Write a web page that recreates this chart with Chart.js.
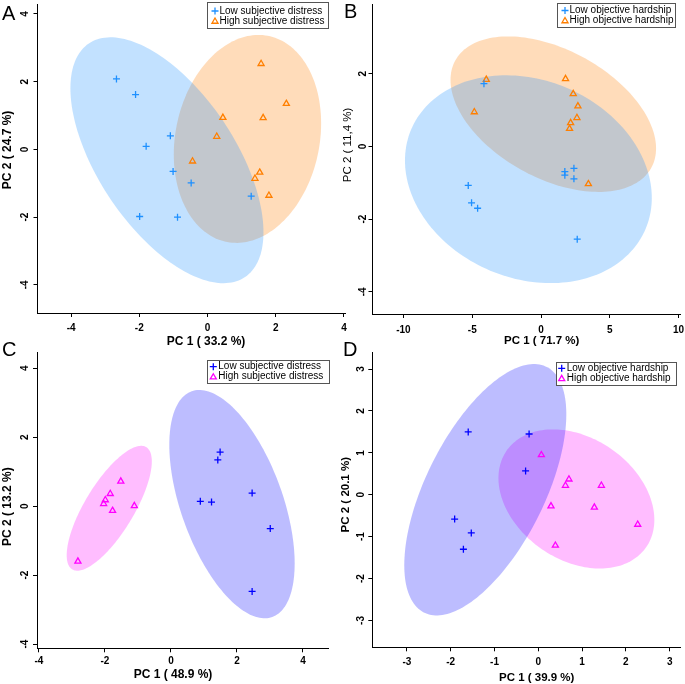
<!DOCTYPE html>
<html>
<head>
<meta charset="utf-8">
<script src="https://cdn.jsdelivr.net/npm/chart.js@4.4.1/dist/chart.umd.min.js"></script>
<style>
  body { margin: 0; background: #fff; }
  #wrap { position: relative; width: 685px; height: 684px; overflow: hidden; }
  canvas { position: absolute; }
</style>
</head>
<body>
<div id="wrap">
  <canvas id="pA" width="360" height="352" style="left:0;top:0"></canvas>
  <canvas id="pB" width="345" height="352" style="left:340px;top:0"></canvas>
  <canvas id="pC" width="345" height="344" style="left:0;top:340px"></canvas>
  <canvas id="pD" width="345" height="344" style="left:340px;top:340px"></canvas>
</div>
<script>
Chart.defaults.animation = false;
const FONT = '"Liberation Sans", Arial, Helvetica, sans-serif';

// ---- A: subjective distress ----
const aLowX  = [-2.67, -2.11, -1.09, -1.80, -1.01, -0.48, -1.99, -0.88, 1.28];
const aLowY  = [2.08, 1.62, 0.40, 0.09, -0.65, -0.99, -1.98, -2.00, -1.38];
const aHighX = [1.57, 2.31, 0.45, 1.63, 0.27, -0.44, 1.53, 1.39, 1.80];
const aHighY = [2.53, 1.35, 0.94, 0.93, 0.38, -0.35, -0.68, -0.86, -1.36];
// ellipse: centre x, centre y, half-width, half-height, correlation
const aLowEllipse  = [-1.19, -0.32, 2.83, 3.63, -0.585];
const aHighEllipse = [1.17, 0.31, 2.16, 3.07, 0.15];
const aXTicks = [-4, -2, 0, 2, 4];
const aYTicks = [-4, -2, 0, 2, 4];

// ---- B: objective hardship ----
const bLowX  = [-4.15, -5.29, -5.05, -4.61, 1.73, 1.73, 2.39, 2.39, 2.63];
const bLowY  = [1.73, -1.07, -1.55, -1.70, -0.69, -0.79, -0.60, -0.89, -2.55];
const bHighX = [-3.98, -4.85, 1.78, 2.34, 2.68, 2.61, 2.15, 2.07, 3.44];
const bHighY = [1.84, 0.95, 1.86, 1.45, 1.11, 0.79, 0.65, 0.49, -1.03];
const bLowEllipse  = [-0.92, -0.9, 8.97, 2.86, -0.18];
const bHighEllipse = [0.89, 0.89, 7.47, 2.14, -0.44];
const bXTicks = [-10, -5, 0, 5, 10];
const bYTicks = [-4, -2, 0, 2];

// ---- C: subjective distress ----
const cLowX  = [1.49, 1.42, 0.89, 1.23, 2.46, 3.01, 2.46];
const cLowY  = [1.57, 1.34, 0.14, 0.12, 0.38, -0.65, -2.47];
const cHighX = [-1.52, -1.84, -1.99, -2.04, -1.77, -1.11, -2.82];
const cHighY = [0.72, 0.36, 0.18, 0.07, -0.13, 0.01, -1.60];
const cLowEllipse  = [1.85, 0.06, 1.90, 3.31, -0.52];
const cHighEllipse = [-1.87, -0.06, 1.29, 1.81, 0.75];
const cXTicks = [-4, -2, 0, 2, 4];
const cYTicks = [-4, -2, 0, 2, 4];

// ---- D: objective hardship ----
const dLowX  = [-1.60, -0.21, -0.29, -1.91, -1.53, -1.71];
const dLowY  = [1.50, 1.45, 0.57, -0.58, -0.91, -1.30];
const dHighX = [0.07, 0.70, 0.62, 1.44, 0.29, 1.28, 2.27, 0.39];
const dHighY = [0.95, 0.37, 0.22, 0.22, -0.27, -0.30, -0.71, -1.21];
const dLowEllipse  = [-1.21, 0.12, 1.85, 3.0, 0.6];
const dHighEllipse = [0.87, -0.10, 1.78, 1.66, -0.3];
const dXTicks = [-3, -2, -1, 0, 1, 2, 3];
const dYTicks = [-3, -2, -1, 0, 1, 2, 3];

const toPts = (xs, ys) => xs.map((x, i) => ({ x, y: ys[i] }));

function fillEllipse(chart, e, color) {
  const xs = chart.scales.x, ys = chart.scales.y, ctx = chart.ctx;
  const [cx, cy, sx, sy, rho] = e;
  const k = Math.sqrt(1 - rho * rho);
  ctx.save();
  ctx.beginPath();
  for (let i = 0; i <= 180; i++) {
    const t = i / 180 * Math.PI * 2;
    const px = xs.getPixelForValue(cx + sx * Math.cos(t));
    const py = ys.getPixelForValue(cy + sy * (rho * Math.cos(t) + k * Math.sin(t)));
    if (i === 0) ctx.moveTo(px, py); else ctx.lineTo(px, py);
  }
  ctx.closePath();
  ctx.fillStyle = color;
  ctx.fill();
  ctx.restore();
}

function drawSymbol(ctx, style, x, y, r, color) {
  ctx.save();
  ctx.strokeStyle = color;
  ctx.lineWidth = 1.3;
  ctx.beginPath();
  if (style === 'cross') {
    ctx.moveTo(x - r, y); ctx.lineTo(x + r, y);
    ctx.moveTo(x, y - r); ctx.lineTo(x, y + r);
  } else {
    for (let i = 0; i < 3; i++) {
      const a = i * 2 * Math.PI / 3;
      const px = x + Math.sin(a) * r, py = y - Math.cos(a) * r;
      if (i === 0) ctx.moveTo(px, py); else ctx.lineTo(px, py);
    }
    ctx.closePath();
  }
  ctx.stroke();
  ctx.restore();
}

function panel(id, p) {
  const W = p.size[0], H = p.size[1];
  const deco = {
    id: 'deco',
    beforeDatasetsDraw(chart) {
      // high group first, low group drawn over it
      fillEllipse(chart, p.highEllipse, p.highFill);
      fillEllipse(chart, p.lowEllipse, p.lowFill);
    },
    afterDraw(chart) {
      const ctx = chart.ctx, xs = chart.scales.x, ys = chart.scales.y, area = chart.chartArea;
      ctx.save();
      ctx.fillStyle = '#000';
      ctx.textAlign = 'center';
      ctx.textBaseline = 'middle';
      ctx.font = 'bold 10px ' + FONT;
      xs.ticks.forEach(t => ctx.fillText(String(t.value), xs.getPixelForValue(t.value), area.bottom + p.xTickOff));
      ys.ticks.forEach(t => {
        ctx.save();
        ctx.translate(p.yTickX, ys.getPixelForValue(t.value));
        ctx.rotate(-Math.PI / 2);
        ctx.fillText(String(t.value), 0, 0);
        ctx.restore();
      });
      // axis titles
      ctx.font = 'bold ' + p.titleSize + 'px ' + FONT;
      ctx.fillText(p.xTitle, p.xTitlePos[0], p.xTitlePos[1]);
      ctx.save();
      ctx.font = (p.yTitleBold ? 'bold ' : '') + p.titleSize + 'px ' + FONT;
      ctx.translate(p.yTitlePos[0], p.yTitlePos[1]);
      ctx.rotate(-Math.PI / 2);
      ctx.fillText(p.yTitle, 0, 0);
      ctx.restore();
      // panel letter
      ctx.textAlign = 'left';
      ctx.textBaseline = 'alphabetic';
      ctx.font = '20px ' + FONT;
      ctx.fillText(p.letter, p.letterPos[0], p.letterPos[1]);
      // legend
      const [lx, ly, lw, lh] = p.legendBox;
      ctx.fillStyle = '#fff';
      ctx.fillRect(lx, ly, lw, lh);
      ctx.strokeStyle = '#555';
      ctx.lineWidth = 1;
      ctx.strokeRect(Math.round(lx) + 0.5, Math.round(ly) + 0.5, Math.round(lw), Math.round(lh));
      ctx.fillStyle = '#000';
      ctx.font = '10px ' + FONT;
      ctx.textBaseline = 'middle';
      p.legendLabels.forEach((lab, i) => {
        const yy = p.legendRows[i];
        drawSymbol(ctx, i === 0 ? 'cross' : 'triangle', p.legendSymX, i === 0 ? yy : yy + 0.5, 3.5, i === 0 ? p.lowColor : p.highColor);
        ctx.fillText(lab, p.legendTextX, yy);
      });
      ctx.restore();
    }
  };

  const axisBase = {
    type: 'linear',
    ticks: { display: false },
    grid: { drawOnChartArea: false, color: '#000', tickLength: 4, lineWidth: 1 },
    border: { color: '#000', width: 1 }
  };

  new Chart(document.getElementById(id), {
    type: 'scatter',
    data: {
      datasets: [
        {
          data: toPts(p.lowX, p.lowY),
          pointStyle: 'cross', pointRadius: 3.5, pointHoverRadius: 3.5,
          borderColor: p.lowColor, backgroundColor: p.lowColor, borderWidth: 1.3
        },
        {
          data: toPts(p.highX, p.highY),
          pointStyle: 'triangle', pointRadius: 3.5, pointHoverRadius: 3.5,
          borderColor: p.highColor, backgroundColor: 'rgba(0,0,0,0)', borderWidth: 1.3
        }
      ]
    },
    options: {
      responsive: false,
      animation: false,
      devicePixelRatio: 1,
      events: [],
      layout: { padding: { left: 0, top: p.area[1], right: W - p.area[2], bottom: 0 } },
      plugins: { legend: { display: false }, tooltip: { enabled: false } },
      scales: {
        x: Object.assign({}, axisBase, {
          min: p.xRange[0], max: p.xRange[1],
          afterBuildTicks: s => { s.ticks = p.xTicks.map(v => ({ value: v })); },
          afterFit: s => { s.height = H - p.area[3]; s.paddingLeft = 0; s.paddingRight = 0; }
        }),
        y: Object.assign({}, axisBase, {
          min: p.yRange[0], max: p.yRange[1],
          afterBuildTicks: s => { s.ticks = p.yTicks.map(v => ({ value: v })); },
          afterFit: s => { s.width = p.area[0]; s.paddingTop = 0; s.paddingBottom = 0; }
        })
      }
    },
    plugins: [deco]
  });
}

const blueA = '#1E90FF', orangeA = '#FF7F00', blueC = '#0000FF', magentaC = '#FF00FF';
const fillBlueA = 'rgba(30,144,255,0.27)', fillOrangeA = 'rgba(255,127,0,0.27)';
const fillBlueC = 'rgba(0,0,255,0.26)', fillMagentaC = 'rgba(255,0,255,0.26)';

panel('pA', {
  size: [360, 352], area: [37.5, 0, 345, 313],
  xRange: [-4.985, 4.03], yRange: [-4.83, 4.27], xTicks: aXTicks, yTicks: aYTicks,
  lowX: aLowX, lowY: aLowY, highX: aHighX, highY: aHighY,
  lowEllipse: aLowEllipse, highEllipse: aHighEllipse,
  lowColor: blueA, highColor: orangeA, lowFill: fillBlueA, highFill: fillOrangeA,
  xTickOff: 15.3, yTickX: 25, titleSize: 12,
  xTitle: 'PC 1 ( 33.2 %)', xTitlePos: [206, 342],
  yTitle: 'PC 2 ( 24.7 %)', yTitlePos: [8, 150], yTitleBold: true,
  letter: 'A', letterPos: [2, 20],
  legendBox: [207, 2, 121, 26], legendSymX: 215, legendTextX: 219.5, legendRows: [11, 21],
  legendLabels: ['Low subjective distress', 'High subjective distress']
});

panel('pB', {
  size: [345, 352], area: [32.5, 0, 340, 314],
  xRange: [-12.25, 10.1], yRange: [-4.61, 3.9], xTicks: bXTicks, yTicks: bYTicks,
  lowX: bLowX, lowY: bLowY, highX: bHighX, highY: bHighY,
  lowEllipse: bLowEllipse, highEllipse: bHighEllipse,
  lowColor: blueA, highColor: orangeA, lowFill: fillBlueA, highFill: fillOrangeA,
  xTickOff: 16, yTickX: 23.5, titleSize: 11.5,
  xTitle: 'PC 1 ( 71.7 %)', xTitlePos: [201.7, 341],
  yTitle: 'PC 2 ( 11,4 %)', yTitlePos: [8, 145], yTitleBold: false,
  letter: 'B', letterPos: [4, 18],
  legendBox: [216.7, 3.3, 118.3, 24], legendSymX: 225, legendTextX: 229.5, legendRows: [10.5, 20.5],
  legendLabels: ['Low objective hardship', 'High objective hardship']
});

panel('pC', {
  size: [345, 344], area: [37, 12.7, 328, 308.3],
  xRange: [-4.06, 4.76], yRange: [-4.12, 4.45], xTicks: cXTicks, yTicks: cYTicks,
  lowX: cLowX, lowY: cLowY, highX: cHighX, highY: cHighY,
  lowEllipse: cLowEllipse, highEllipse: cHighEllipse,
  lowColor: blueC, highColor: magentaC, lowFill: fillBlueC, highFill: fillMagentaC,
  xTickOff: 12.5, yTickX: 25, titleSize: 12,
  xTitle: 'PC 1 ( 48.9 %)', xTitlePos: [173, 334.3],
  yTitle: 'PC 2 ( 13.2 %)', yTitlePos: [8, 166.7], yTitleBold: true,
  letter: 'C', letterPos: [2, 16],
  legendBox: [206.7, 20, 121.6, 23.3], legendSymX: 213.3, legendTextX: 218.3, legendRows: [26.7, 36.7],
  legendLabels: ['Low subjective distress', 'High subjective distress']
});

panel('pD', {
  size: [345, 344], area: [32.3, 12.7, 341.5, 307.3],
  xRange: [-3.79, 3.24], yRange: [-3.64, 3.39], xTicks: dXTicks, yTicks: dYTicks,
  lowX: dLowX, lowY: dLowY, highX: dHighX, highY: dHighY,
  lowEllipse: dLowEllipse, highEllipse: dHighEllipse,
  lowColor: blueC, highColor: magentaC, lowFill: fillBlueC, highFill: fillMagentaC,
  xTickOff: 15.4, yTickX: 21.7, titleSize: 11.5,
  xTitle: 'PC 1 ( 39.9 %)', xTitlePos: [196.7, 338.3],
  yTitle: 'PC 2 ( 20.1 %)', yTitlePos: [6, 154.7], yTitleBold: true,
  letter: 'D', letterPos: [3, 16],
  legendBox: [216, 21.7, 119.7, 23.3], legendSymX: 221.7, legendTextX: 226.7, legendRows: [28.3, 38.3],
  legendLabels: ['Low objective hardship', 'High objective hardship']
});
</script>
</body>
</html>
